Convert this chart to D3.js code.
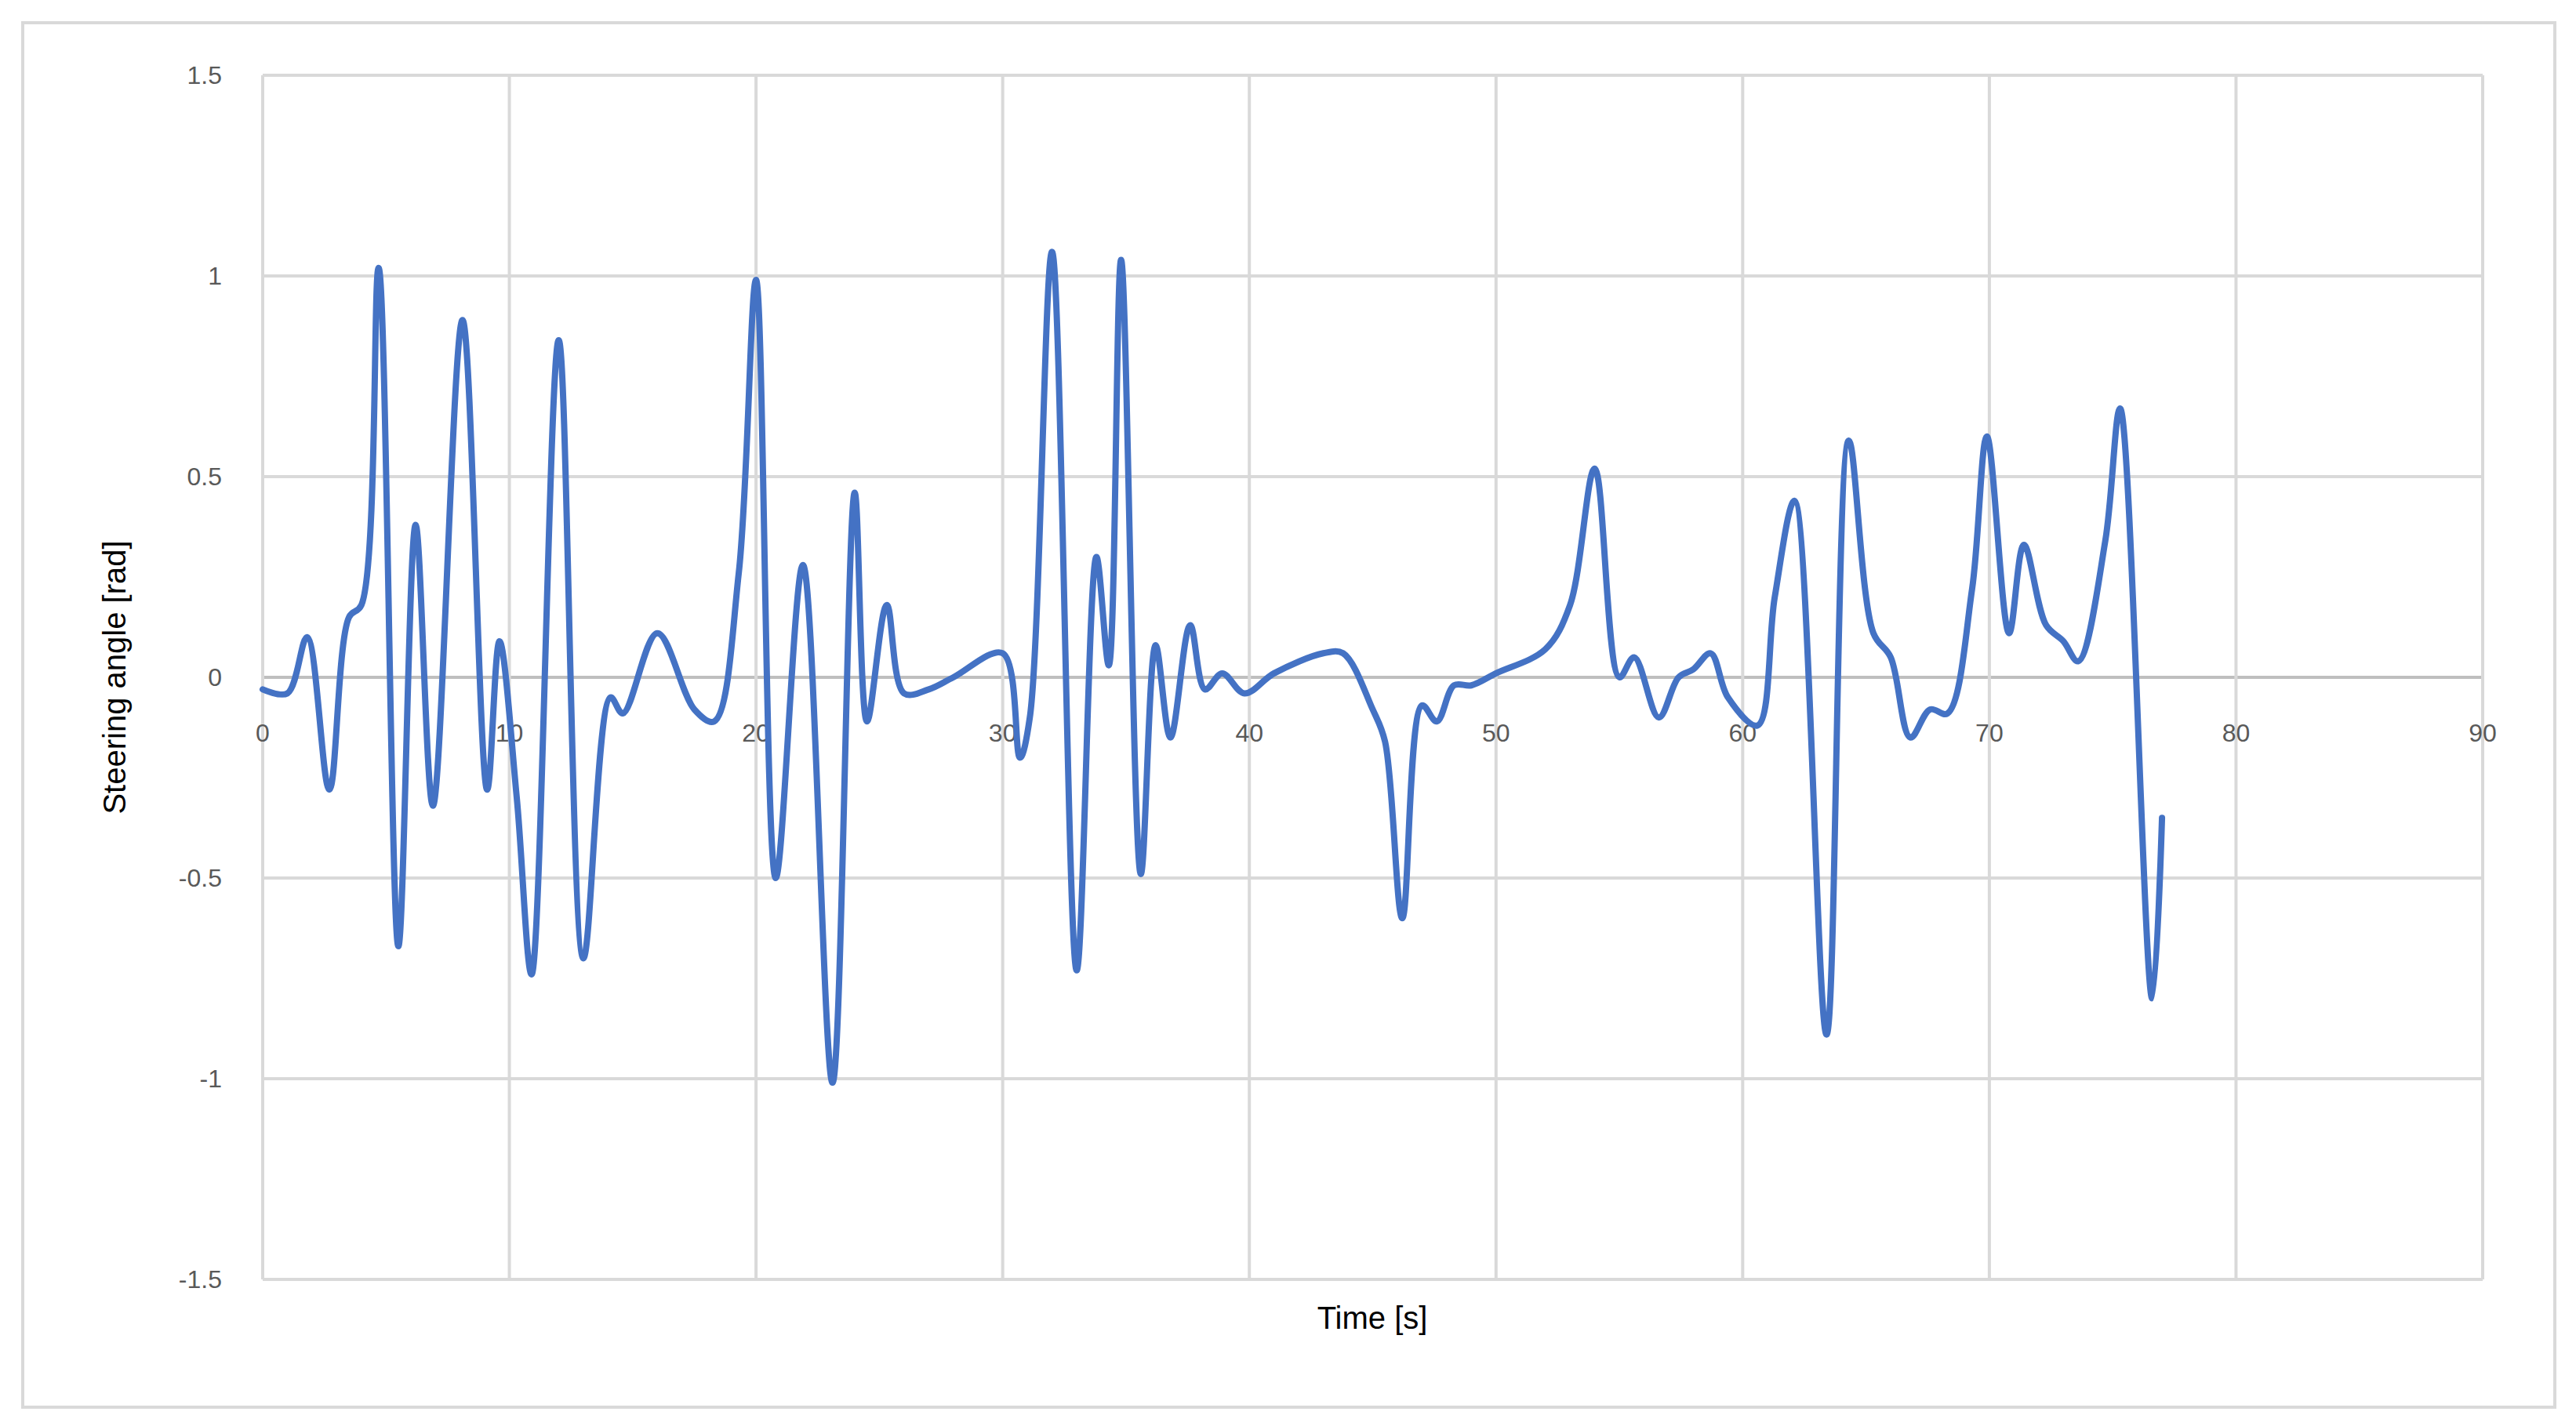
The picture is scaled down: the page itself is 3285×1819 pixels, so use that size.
<!DOCTYPE html>
<html>
<head>
<meta charset="utf-8">
<script src="https://cdn.jsdelivr.net/npm/d3@7"></script>
<style>
  body { margin: 0; background: #fff; }
  text { font-family: "Liberation Sans", Arial, sans-serif; }
</style>
</head>
<body>
<script>
// values (time in s, angle in rad)
const times = [0, 1, 1.8, 2.7, 3.5, 4, 4.7, 5.5, 6.2, 6.9, 8.1, 9.1, 9.6, 10.3, 10.9, 12, 13, 14.1, 14.6, 16, 17.5, 18.3, 19.3, 20, 20.8, 21.9, 23.1, 24, 24.5, 25.3, 26, 27, 28, 30, 30.7, 31.1, 32, 33, 33.8, 34.3, 34.8, 35.6, 36.2, 36.8, 37.6, 38.2, 38.9, 39.8, 41, 43, 43.8, 45, 45.5, 46.2, 47, 47.6, 48.3, 49, 50, 52, 53, 54, 55, 55.6, 56.6, 57.4, 58, 58.7, 59.4, 60.6, 61.3, 62.1, 63.4, 64.3, 65.3, 66, 66.8, 67.6, 68.3, 69.3, 69.9, 70.8, 71.4, 72.3, 73, 73.6, 74.7, 75.3, 76.6, 77];
const angles = [-0.03, -0.04, 0.1, -0.28, 0.15, 0.18, 1.02, -0.67, 0.38, -0.32, 0.89, -0.28, 0.09, -0.3, -0.74, 0.84, -0.7, -0.05, -0.09, 0.11, -0.08, -0.11, 0.26, 0.99, -0.5, 0.28, -1.01, 0.46, -0.11, 0.18, -0.04, -0.03, 0, 0.06, -0.2, -0.1, 1.06, -0.73, 0.3, 0.03, 1.04, -0.49, 0.08, -0.15, 0.13, -0.03, 0.01, -0.04, 0.01, 0.06, 0.06, -0.08, -0.16, -0.6, -0.07, -0.11, -0.02, -0.02, 0.01, 0.07, 0.18, 0.52, 0, 0.05, -0.1, 0, 0.02, 0.06, -0.05, -0.12, 0.2, 0.44, -0.89, 0.59, 0.11, 0.05, -0.15, -0.08, -0.09, 0.22, 0.6, 0.11, 0.33, 0.13, 0.09, 0.04, 0.34, 0.67, -0.8, -0.35];
const xTicks = [0, 10, 20, 30, 40, 50, 60, 70, 80, 90];
const yTicks = [-1.5, -1, -0.5, 0, 0.5, 1, 1.5];

const width = 3285, height = 1819;
const plot = { left: 335, right: 3166, top: 96, bottom: 1632 };

const svg = d3.select("body").append("svg")
  .attr("width", width).attr("height", height);

svg.append("rect")
  .attr("x", 29).attr("y", 29).attr("width", 3229).attr("height", 1766)
  .attr("fill", "#fff").attr("stroke", "#d9d9d9").attr("stroke-width", 4);

const x = d3.scaleLinear().domain([0, 90]).range([plot.left, plot.right]);
const y = d3.scaleLinear().domain([-1.5, 1.5]).range([plot.bottom, plot.top]);

// gridlines
svg.append("g").selectAll("line").data(yTicks).enter().append("line")
  .attr("x1", plot.left).attr("x2", plot.right)
  .attr("y1", d => y(d)).attr("y2", d => y(d))
  .attr("stroke", d => d === 0 ? "#bfbfbf" : "#d9d9d9").attr("stroke-width", 4);

svg.append("g").selectAll("line").data(xTicks).enter().append("line")
  .attr("x1", d => x(d)).attr("x2", d => x(d))
  .attr("y1", plot.top).attr("y2", plot.bottom)
  .attr("stroke", "#d9d9d9").attr("stroke-width", 4);

// tick labels
svg.append("g").selectAll("text").data(yTicks).enter().append("text")
  .attr("x", 283).attr("y", d => y(d)).attr("dy", "0.35em")
  .attr("text-anchor", "end").attr("font-size", 32).attr("fill", "#595959")
  .text(d => d);

svg.append("g").selectAll("text").data(xTicks).enter().append("text")
  .attr("x", d => x(d)).attr("y", y(0) + 82)
  .attr("text-anchor", "middle").attr("font-size", 32).attr("fill", "#595959")
  .text(d => d);

// series
const points = times.map((t, i) => [t, angles[i]]);
svg.append("path")
  .datum(points)
  .attr("fill", "none").attr("stroke", "#4472c4").attr("stroke-width", 8)
  .attr("stroke-linejoin", "round").attr("stroke-linecap", "round")
  .attr("d", d3.line().x(d => x(d[0])).y(d => y(d[1])).curve(d3.curveCatmullRom.alpha(0.5)));

// axis titles
svg.append("text")
  .attr("x", 1750).attr("y", 1695).attr("text-anchor", "middle")
  .attr("font-size", 40).attr("fill", "#000").text("Time [s]");

svg.append("text")
  .attr("transform", `translate(160, ${y(0)}) rotate(-90)`)
  .attr("text-anchor", "middle")
  .attr("font-size", 40).attr("fill", "#000").text("Steering angle [rad]");
</script>
</body>
</html>
